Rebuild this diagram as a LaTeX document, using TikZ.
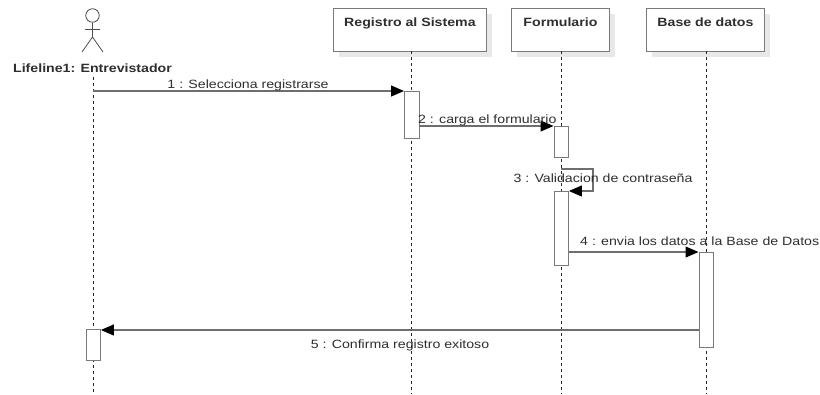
\documentclass[tikz,border=0pt]{standalone}
\usepackage{fontspec}
\setmainfont{Liberation Sans}[FakeStretch=1.18]
\usetikzlibrary{arrows.meta,shadows}
\definecolor{boxline}{HTML}{7A7A7A}
\definecolor{msgline}{HTML}{6E6E6E}
\definecolor{txt}{HTML}{2E2E2E}
\definecolor{shade}{HTML}{E8E8E8}
\begin{document}
\begin{tikzpicture}[x=1pt,y=-1pt,
  obj/.style={draw=boxline, fill=white, line width=0.9pt, anchor=north west, inner sep=0pt,
     drop shadow={shadow xshift=6pt, shadow yshift=-6pt, fill=shade, opacity=1}},
  objlabel/.style={font=\bfseries\fontsize{12}{14}\selectfont, text=txt, anchor=north, inner sep=0pt},
  act/.style={draw=boxline, fill=white, line width=0.9pt, anchor=north west, inner sep=0pt, minimum width=14.5pt},
  life/.style={draw=black!85, dash pattern=on 3pt off 3pt, line width=0.7pt},
  msg/.style={draw=msgline, line width=1.2pt, -{Triangle[length=13pt,width=11pt,color=black,fill=black]}},
  mlabel/.style={font=\fontsize{12}{14}\selectfont, text=txt, inner sep=0pt},
  figline/.style={draw=black!70, line width=0.8pt}
]
\useasboundingbox (0,0) rectangle (820,394);

% actor
\node[draw=black!70, line width=0.8pt, circle, minimum size=13.5pt, inner sep=0pt] (head) at (92.5,15.5) {};
\coordinate (hip) at (92.5,37);
\coordinate (armL) at (85,29);
\coordinate (armR) at (100,29);
\coordinate (legL) at (82,52);
\coordinate (legR) at (103,52);
\draw[figline] (head.south) -- (hip);
\draw[figline] (armL) -- (armR);
\draw[figline] (legL) -- (hip) -- (legR);
\node[objlabel, anchor=base] (actlabel) at (92.5,72) {Lifeline1: Entrevistador};

% objects
\node[obj, minimum width=153pt, minimum height=43pt] (reg) at (333,8) {};
\node[objlabel] (reglabel) at ([yshift=-10pt]reg.north) {Registro al Sistema};
\node[obj, minimum width=98pt, minimum height=43pt] (form) at (511,8) {};
\node[objlabel] (formlabel) at ([yshift=-10pt]form.north) {Formulario};
\node[obj, minimum width=118pt, minimum height=43pt] (base) at (646,8) {};
\node[objlabel] (baselabel) at ([yshift=-10pt]base.north) {Base de datos};

% lifeline ends
\coordinate (actTop) at (93,77);
\coordinate (actEnd) at (93,394);
\coordinate (regTop) at (411,51);
\coordinate (regEnd) at (411,394);
\coordinate (formTop) at (561,51);
\coordinate (formEnd) at (561,394);
\coordinate (baseTop) at (706,51);
\coordinate (baseEnd) at (706,394);
\draw[life] (actTop) -- (actEnd);
\draw[life] (regTop) -- (regEnd);
\draw[life] (formTop) -- (formEnd);
\draw[life] (baseTop) -- (baseEnd);

% activations
\node[act, minimum height=47pt] (a1) at (404,91) {};
\node[act, minimum height=31pt] (a2) at (553.5,126) {};
\node[act, minimum height=74pt] (a3) at (553.5,191) {};
\node[act, minimum height=95pt] (a4) at (698.5,252) {};
\node[act, minimum height=31pt] (a5) at (85.5,329) {};

% message 1
\coordinate (m1s) at (93,91);
\draw[msg] (m1s) -- (a1.north west);
\node[mlabel, anchor=base] (l1) at (248,88) {1 : Selecciona registrarse};

% message 2
\draw[msg] (a1.north east |- 0,126) -- (a2.north west);
\node[mlabel, anchor=base west] (l2) at (418,123) {2 : carga el formulario};

% message 3 (self)
\coordinate (m3s) at (561,169);
\coordinate (m3a) at (593,169);
\coordinate (m3b) at (593,191);
\draw[msg] (m3s) -- (m3a) -- (m3b) -- (a3.north east);
\node[mlabel, anchor=base] (l3) at (603,182) {3 : Validacion de contraseña};

% message 4
\draw[msg] (a3.east |- 0,252) -- (a4.north west);
\node[mlabel, anchor=base west] (l4) at (580,245) {4 : envia los datos a la Base de Datos};

% message 5
\draw[msg] (a4.west |- 0,330) -- (a5.north east |- 0,330);
\node[mlabel, anchor=base] (l5) at (400,348) {5 : Confirma registro exitoso};
\end{tikzpicture}
\end{document}
